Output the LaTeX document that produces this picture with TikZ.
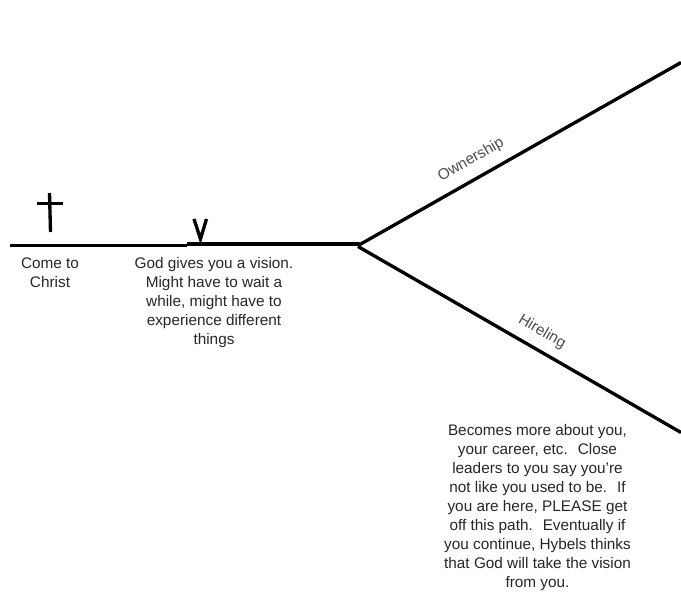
\documentclass[tikz,border=0pt]{standalone}
\usepackage{fontspec}
\setmainfont{Liberation Sans}
\tikzset{
    path line/.style={line width=2.5pt},
    note/.style={align=center, font=\fontsize{11.5pt}{14.25pt}\selectfont, text=black!85, inner sep=0pt},
    branch label/.style={font=\fontsize{11.5pt}{12pt}\selectfont, text=black!70, inner sep=0pt}
}
\begin{document}
\begin{tikzpicture}[x=0.75pt,y=-0.75pt]
    \useasboundingbox (0,0) rectangle (681,609);
    % Puntos
    \coordinate (start) at (10,245.5);
    \coordinate (midl) at (187,245.5);
    \coordinate (midr) at (187,244);
    \coordinate (forkr) at (360,244);
    \coordinate (forkup) at (359,245);
    \coordinate (forkdown) at (358,246.5);
    \coordinate (upend) at (681,62.5);
    \coordinate (downend) at (681,432.5);
    % Camino
    \draw[path line] (start) -- (midl);
    \draw[path line] (midr) -- (forkr);
    \draw[path line] (forkup) -- (upend);
    \draw[path line] (forkdown) -- (downend);
    % Cruz
    \coordinate (crosstop) at (49.5,193);
    \coordinate (crossbot) at (50.5,232);
    \coordinate (crossl) at (37,203.5);
    \coordinate (crossr) at (63,203.5);
    \draw[path line] (crosstop) -- (crossbot);
    \draw[path line] (crossl) -- (crossr);
    % V
    \coordinate (vl) at (194,219);
    \coordinate (vb) at (200.5,239);
    \coordinate (vr) at (206.5,219);
    \draw[path line] (vl) -- (vb) -- (vr);
    % Textos
    \node[note] (come) at (50,273) {Come to\\Christ};
    \node[note] (vision) at (214,302.5) {God gives you a vision.\\Might have to wait a\\while, might have to\\experience different\\things};
    \node[note] (becomes) at (537.5,507.5) {Becomes more about you,\\your career, etc.~ Close\\leaders to you say you're\\not like you used to be.~ If\\you are here, PLEASE get\\off this path.~ Eventually if\\you continue, Hybels thinks\\that God will take the vision\\from you.};
    \node[branch label, rotate=30] (own) at (471,160) {Ownership};
    \node[branch label, rotate=-30] (hire) at (542,332) {Hireling};
\end{tikzpicture}
\end{document}
